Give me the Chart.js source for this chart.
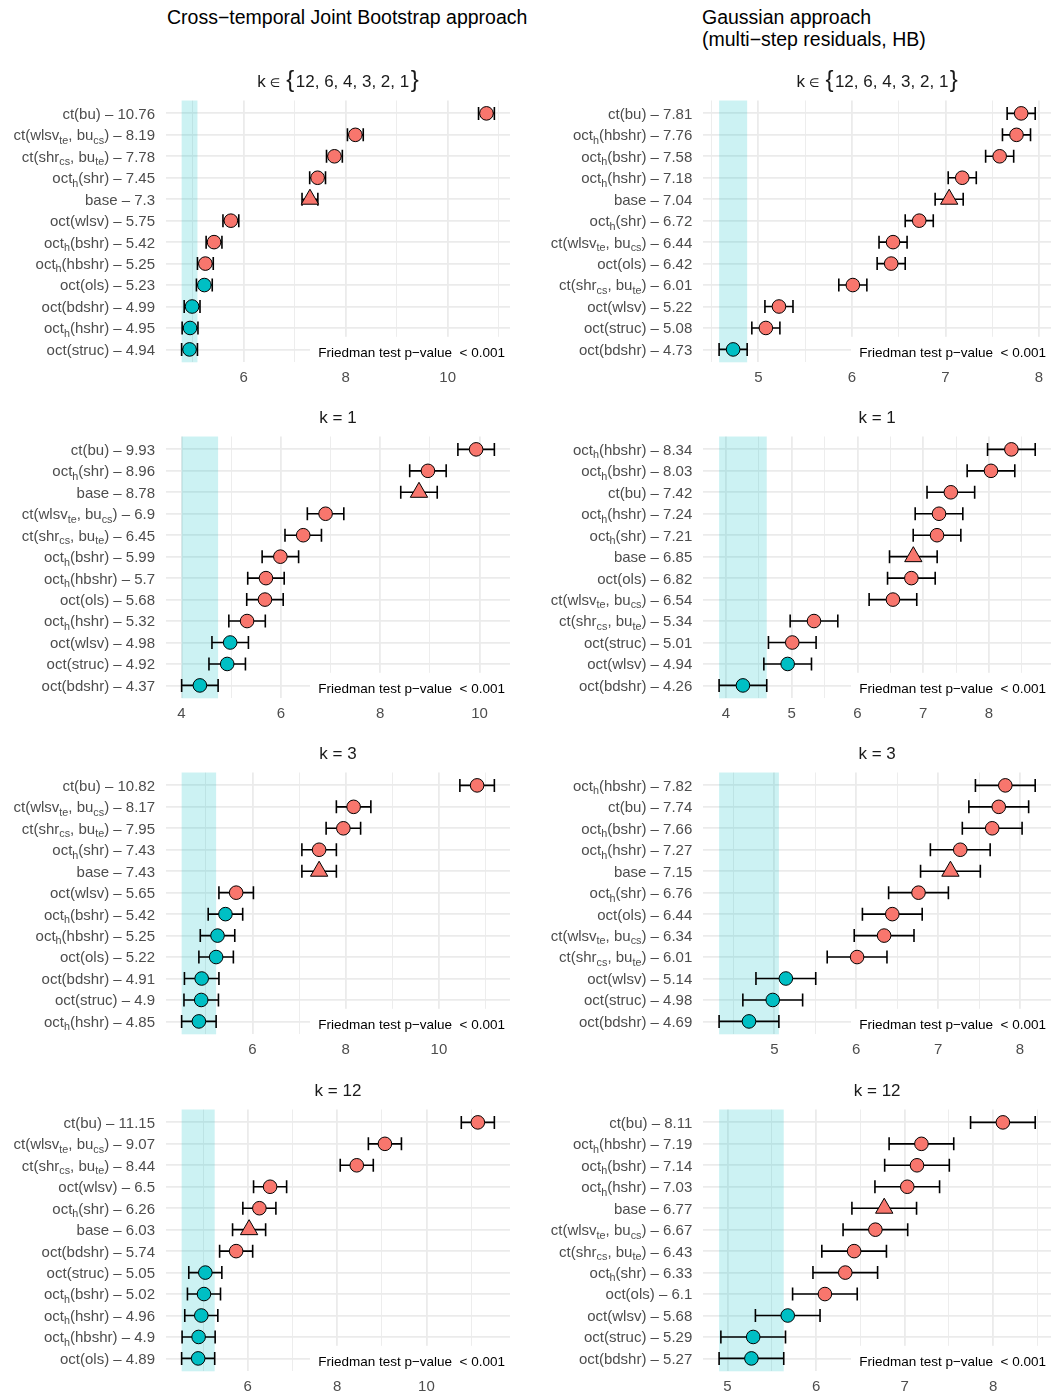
<!DOCTYPE html>
<html>
<head>
<meta charset="utf-8">
<script src="https://cdn.jsdelivr.net/npm/chart.js@4.4.1/dist/chart.umd.min.js"></script>
<style>
  body { margin: 0; width: 1051px; height: 1396px; overflow: hidden; background: #fff; position: relative;
         font-family: "Liberation Sans", Arial, sans-serif; }
  .coltitle { position: absolute; font-size: 19.5px; line-height: 21.7px; color: #000; white-space: nowrap; }
  canvas { position: absolute; }
</style>
</head>
<body>
<div class="coltitle" style="left:167px;top:7px">Cross−temporal Joint Bootstrap approach</div>
<div class="coltitle" style="left:702px;top:7px">Gaussian approach<br>(multi−step residuals, HB)</div>
<script>
// facet titles, one per row
const facetTitles = ['k ∈ {12, 6, 4, 3, 2, 1}', 'k = 1', 'k = 3', 'k = 12'];

// Cross-temporal Joint Bootstrap approach (left column)
const jbAllNames = ['ct(bu)', 'ct(wlsv_te, bu_cs)', 'ct(shr_cs, bu_te)', 'oct_h(shr)', 'base', 'oct(wlsv)',
                    'oct_h(bshr)', 'oct_h(hbshr)', 'oct(ols)', 'oct(bdshr)', 'oct_h(hshr)', 'oct(struc)'];
const jbAllRanks = [10.76, 8.19, 7.78, 7.45, 7.3, 5.75, 5.42, 5.25, 5.23, 4.99, 4.95, 4.94];

const jbK1Names = ['ct(bu)', 'oct_h(shr)', 'base', 'ct(wlsv_te, bu_cs)', 'ct(shr_cs, bu_te)', 'oct_h(bshr)',
                   'oct_h(hbshr)', 'oct(ols)', 'oct_h(hshr)', 'oct(wlsv)', 'oct(struc)', 'oct(bdshr)'];
const jbK1Ranks = [9.93, 8.96, 8.78, 6.9, 6.45, 5.99, 5.7, 5.68, 5.32, 4.98, 4.92, 4.37];

const jbK3Names = ['ct(bu)', 'ct(wlsv_te, bu_cs)', 'ct(shr_cs, bu_te)', 'oct_h(shr)', 'base', 'oct(wlsv)',
                   'oct_h(bshr)', 'oct_h(hbshr)', 'oct(ols)', 'oct(bdshr)', 'oct(struc)', 'oct_h(hshr)'];
const jbK3Ranks = [10.82, 8.17, 7.95, 7.43, 7.43, 5.65, 5.42, 5.25, 5.22, 4.91, 4.9, 4.85];

const jbK12Names = ['ct(bu)', 'ct(wlsv_te, bu_cs)', 'ct(shr_cs, bu_te)', 'oct(wlsv)', 'oct_h(shr)', 'base',
                    'oct(bdshr)', 'oct(struc)', 'oct_h(bshr)', 'oct_h(hshr)', 'oct_h(hbshr)', 'oct(ols)'];
const jbK12Ranks = [11.15, 9.07, 8.44, 6.5, 6.26, 6.03, 5.74, 5.05, 5.02, 4.96, 4.9, 4.89];

// Gaussian approach (right column)
const gaAllNames = ['ct(bu)', 'oct_h(hbshr)', 'oct_h(bshr)', 'oct_h(hshr)', 'base', 'oct_h(shr)',
                    'ct(wlsv_te, bu_cs)', 'oct(ols)', 'ct(shr_cs, bu_te)', 'oct(wlsv)', 'oct(struc)', 'oct(bdshr)'];
const gaAllRanks = [7.81, 7.76, 7.58, 7.18, 7.04, 6.72, 6.44, 6.42, 6.01, 5.22, 5.08, 4.73];

const gaK1Names = ['oct_h(hbshr)', 'oct_h(bshr)', 'ct(bu)', 'oct_h(hshr)', 'oct_h(shr)', 'base',
                   'oct(ols)', 'ct(wlsv_te, bu_cs)', 'ct(shr_cs, bu_te)', 'oct(struc)', 'oct(wlsv)', 'oct(bdshr)'];
const gaK1Ranks = [8.34, 8.03, 7.42, 7.24, 7.21, 6.85, 6.82, 6.54, 5.34, 5.01, 4.94, 4.26];

const gaK3Names = ['oct_h(hbshr)', 'ct(bu)', 'oct_h(bshr)', 'oct_h(hshr)', 'base', 'oct_h(shr)',
                   'oct(ols)', 'ct(wlsv_te, bu_cs)', 'ct(shr_cs, bu_te)', 'oct(wlsv)', 'oct(struc)', 'oct(bdshr)'];
const gaK3Ranks = [7.82, 7.74, 7.66, 7.27, 7.15, 6.76, 6.44, 6.34, 6.01, 5.14, 4.98, 4.69];

const gaK12Names = ['ct(bu)', 'oct_h(hbshr)', 'oct_h(bshr)', 'oct_h(hshr)', 'base', 'ct(wlsv_te, bu_cs)',
                    'ct(shr_cs, bu_te)', 'oct_h(shr)', 'oct(ols)', 'oct(wlsv)', 'oct(struc)', 'oct(bdshr)'];
const gaK12Ranks = [8.11, 7.19, 7.14, 7.03, 6.77, 6.67, 6.43, 6.33, 6.1, 5.68, 5.29, 5.27];

// half critical difference (error bar half width) and number of methods not
// significantly different from the best one (bottom rows), per row
const jbHalfCD = [0.155, 0.367, 0.37, 0.37];
const gaHalfCD = [0.15, 0.362, 0.365, 0.365];
const jbNotSig = [4, 3, 6, 5];
const gaNotSig = [1, 2, 3, 3];

const friedmanNote = 'Friedman test p−value  < 0.001';

const FONT = '"Liberation Sans", Arial, sans-serif';
const RED = '#F8766D', CYAN = '#00BFC4';

function drawLabel(ctx, text, xRight, yMid) {
  const size = 15;
  const parts = text.split(/(_[a-z]+)/).filter(s => s).map(s =>
    s[0] === '_' ? { t: s.slice(1), sub: true } : { t: s, sub: false });
  let w = 0;
  parts.forEach(p => {
    ctx.font = (p.sub ? size * 0.72 : size) + 'px ' + FONT;
    p.w = ctx.measureText(p.t).width;
    w += p.w;
  });
  let cx = xRight - w;
  const base = yMid + size * 0.36;
  ctx.fillStyle = '#4D4D4D';
  ctx.textAlign = 'left';
  ctx.textBaseline = 'alphabetic';
  parts.forEach(p => {
    ctx.font = (p.sub ? size * 0.72 : size) + 'px ' + FONT;
    ctx.fillText(p.t, cx, p.sub ? base + 3.5 : base);
    cx += p.w;
  });
}

// facet title: pieces [text, font, gap after]
function drawTitle(ctx, title, cx, cy) {
  const main = '17px ' + FONT;
  let pieces;
  if (title.includes('{')) {
    const inner = title.slice(title.indexOf('{') + 1, title.indexOf('}'));
    pieces = [['k', main, 4], ['∈', '12px "DejaVu Sans", sans-serif', 6], ['{', '24px ' + FONT, 1.5],
              [inner, main, 1.5], ['}', '24px ' + FONT, 0]];
  } else {
    pieces = [[title, main, 0]];
  }
  let w = 0;
  pieces.forEach(p => { ctx.font = p[1]; p.w = ctx.measureText(p[0]).width; w += p.w + p[2]; });
  let x = cx - w / 2;
  ctx.fillStyle = '#1A1A1A';
  ctx.textAlign = 'left';
  ctx.textBaseline = 'alphabetic';
  pieces.forEach(p => {
    ctx.font = p[1];
    ctx.fillText(p[0], x, cy + 6.1 + (p[0] === '∈' ? -0.5 : 0));
    x += p.w + p[2];
  });
}

const panelDecor = {
  id: 'panelDecor',
  beforeDatasetsDraw(chart, args, opts) {
    const { ctx, chartArea: a, scales: { x, y } } = chart;
    const best = Math.min(...opts.ranks);
    const h = opts.half;
    ctx.save();
    ctx.fillStyle = 'rgba(0,191,196,0.2)';
    const b0 = x.getPixelForValue(best - h), b1 = x.getPixelForValue(best + h);
    ctx.fillRect(b0, a.top, b1 - b0, a.bottom - a.top);
    ctx.fillStyle = '#fff';
    ctx.fillRect(a.right - 200, a.bottom - 25.5, 200, 25.5);
    ctx.strokeStyle = '#000';
    ctx.lineWidth = 1.6;
    opts.ranks.forEach((v, i) => {
      const py = y.getPixelForValue(i);
      const l = x.getPixelForValue(v - h), r = x.getPixelForValue(v + h);
      ctx.beginPath();
      ctx.moveTo(l, py); ctx.lineTo(r, py);
      ctx.moveTo(l, py - 6.5); ctx.lineTo(l, py + 6.5);
      ctx.moveTo(r, py - 6.5); ctx.lineTo(r, py + 6.5);
      ctx.stroke();
    });
    ctx.restore();
  },
  afterDraw(chart, args, opts) {
    const { ctx, chartArea: a, scales: { y } } = chart;
    ctx.save();
    opts.names.forEach((n, i) => {
      drawLabel(ctx, n + ' – ' + String(opts.ranks[i]), a.left - 11, y.getPixelForValue(i));
    });
    drawTitle(ctx, opts.title, (a.left + a.right) / 2, a.top - 19.5);
    ctx.font = '13.5px ' + FONT;
    ctx.fillStyle = '#000';
    ctx.textAlign = 'right';
    ctx.textBaseline = 'middle';
    ctx.fillText(friedmanNote, a.right - 5, a.bottom - 9.5);
    ctx.restore();
  }
};

function makePanel(col, row, names, ranks, half, notSig) {
  const canvas = document.createElement('canvas');
  const left = col === 0 ? 0 : 525;
  const width = col === 0 ? 525 : 526;
  canvas.width = width;
  canvas.height = 336;
  canvas.style.left = left + 'px';
  canvas.style.top = (64 + row * 336.2) + 'px';
  document.body.appendChild(canvas);

  const step = col === 0 ? 1 : 0.5;
  const labelStep = col === 0 ? 2 : 1;
  const lo = Math.min(...ranks) - half, hi = Math.max(...ranks) + half;
  const pad = 0.05 * (hi - lo);
  const isMajor = v => Math.abs(v / labelStep - Math.round(v / labelStep)) < 1e-6;
  const n = names.length;

  new Chart(canvas, {
    type: 'scatter',
    data: {
      datasets: [{
        data: ranks.map((v, i) => ({ x: v, y: i })),
        pointStyle: names.map(s => s === 'base' ? 'triangle' : 'circle'),
        pointRadius: names.map(s => s === 'base' ? 10 : 6.8),
        pointBackgroundColor: ranks.map((v, i) => i >= n - notSig ? CYAN : RED),
        pointBorderColor: '#000',
        pointBorderWidth: 1,
        clip: false
      }]
    },
    options: {
      responsive: false,
      animation: false,
      devicePixelRatio: 1,
      events: [],
      layout: {
        autoPadding: false,
        padding: { left: col === 0 ? 166 : 178.3, right: col === 0 ? 15 : 0, top: 36.5, bottom: 13.7 }
      },
      plugins: {
        legend: { display: false },
        tooltip: { enabled: false },
        panelDecor: { names, ranks, half, title: facetTitles[row] }
      },
      scales: {
        x: {
          type: 'linear',
          min: lo - pad,
          max: hi + pad,
          afterBuildTicks: s => {
            const t = [];
            for (let v = Math.ceil(s.min / step - 1e-9) * step; v <= s.max + 1e-9; v += step) {
              t.push({ value: Math.round(v * 100) / 100 });
            }
            s.ticks = t;
          },
          afterFit: s => { s.height = 24; s.paddingLeft = 0; s.paddingRight = 0; },
          ticks: {
            callback: v => isMajor(v) ? String(v) : '',
            font: { size: 15, family: FONT },
            color: '#4D4D4D',
            padding: 7,
            maxRotation: 0,
            autoSkip: false
          },
          grid: {
            drawTicks: false,
            color: '#EBEBEB',
            lineWidth: c => (c.tick && isMajor(c.tick.value)) ? 1.8 : 0.9
          },
          border: { display: false }
        },
        y: {
          type: 'linear',
          min: -0.6,
          max: n - 0.4,
          reverse: true,
          afterBuildTicks: s => { s.ticks = names.map((_, i) => ({ value: i })); },
          afterFit: s => { s.width = 0; s.paddingTop = 0; s.paddingBottom = 0; },
          ticks: { display: false },
          grid: { drawTicks: false, color: '#EBEBEB', lineWidth: 1.8 },
          border: { display: false }
        }
      }
    },
    plugins: [panelDecor]
  });
}

makePanel(0, 0, jbAllNames, jbAllRanks, jbHalfCD[0], jbNotSig[0]);
makePanel(1, 0, gaAllNames, gaAllRanks, gaHalfCD[0], gaNotSig[0]);
makePanel(0, 1, jbK1Names, jbK1Ranks, jbHalfCD[1], jbNotSig[1]);
makePanel(1, 1, gaK1Names, gaK1Ranks, gaHalfCD[1], gaNotSig[1]);
makePanel(0, 2, jbK3Names, jbK3Ranks, jbHalfCD[2], jbNotSig[2]);
makePanel(1, 2, gaK3Names, gaK3Ranks, gaHalfCD[2], gaNotSig[2]);
makePanel(0, 3, jbK12Names, jbK12Ranks, jbHalfCD[3], jbNotSig[3]);
makePanel(1, 3, gaK12Names, gaK12Ranks, gaHalfCD[3], gaNotSig[3]);
</script>
</body>
</html>
